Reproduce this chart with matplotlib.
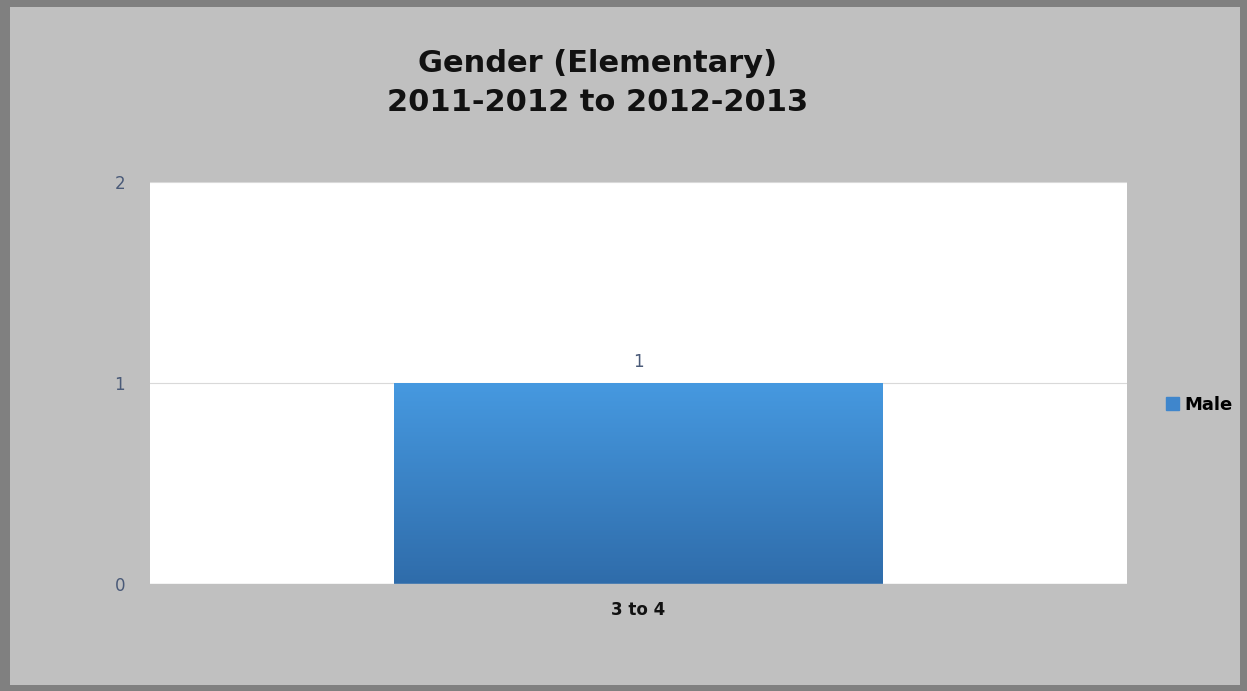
import numpy as np
import matplotlib.pyplot as plt
from matplotlib.patches import Rectangle
from matplotlib.colors import LinearSegmentedColormap

categories = ["3 to 4"]
male = [1]
yticks = [0, 1, 2]
title = "Gender (Elementary)\n2011-2012 to 2012-2013"

W, H = 1247, 691
fig = plt.figure(figsize=(W / 100, H / 100), dpi=100, facecolor="#c0c0c0")
# dark frame round the whole chart (left, right, top, bottom strips)
for x0, y0, w, h in [(0, 0, 10, H), (W - 7, 0, 7, H), (0, H - 7, W, 7), (0, 0, W, 6)]:
    fig.patches.append(Rectangle((x0 / W, y0 / H), w / W, h / H,
                                 transform=fig.transFigure, facecolor="#808080",
                                 edgecolor="none", zorder=10))

ax = fig.add_axes([150 / W, 1 - 584 / H, 977 / W, 402 / H])
ax.set_facecolor("white")
x = np.arange(len(categories))
bars = ax.bar(x, male, width=1.0, color="#3f86cc", zorder=2, label="Male")

# vertical gradient on each bar
grad = LinearSegmentedColormap.from_list("g", ["#2f6caa", "#4699e0"])
for b in bars:
    bx, by = b.get_x(), b.get_y()
    w, h = b.get_width(), b.get_height()
    im = ax.imshow(np.linspace(0, 1, 256).reshape(-1, 1), cmap=grad,
                   origin="lower", extent=[bx, bx + w, by, by + h],
                   aspect="auto", zorder=3)
    im.set_clip_path(b)
    ax.text(bx + w / 2, by + h + 0.06, str(male[0]), ha="center", va="bottom",
            fontsize=12, color="#4a5a78")

ax.set_xlim(-1, 1)
ax.set_ylim(0, 2)
ax.set_yticks(yticks)
ax.set_yticklabels([str(t) for t in yticks], fontsize=12, color="#4a5a78")
ax.set_xticks(x)
ax.set_xticklabels(categories, fontsize=12, fontweight="bold", color="#111111")
ax.tick_params(length=0, axis="y", pad=18)
ax.tick_params(length=0, axis="x", pad=12)
ax.grid(axis="y", color="#d9d9d9", linewidth=0.8, zorder=1)
for s in ax.spines.values():
    s.set_visible(False)
ax.axhline(0, color="#d0d0d0", linewidth=1, zorder=4)

fig.text(598 / W, 1 - 83 / H, title, ha="center", va="center", fontsize=22,
         fontweight="bold", linespacing=1.45, color="#111111")

fig.legend(handles=[Rectangle((0, 0), 1, 1, color="#3f86cc")], labels=["Male"],
           loc="center left", bbox_to_anchor=(1150 / W, 1 - 405 / H),
           frameon=False, handlelength=0.7, handleheight=0.7,
           handletextpad=0.3, prop={"weight": "bold", "size": 13})

fig.savefig("out.png", dpi=100, facecolor=fig.get_facecolor())
